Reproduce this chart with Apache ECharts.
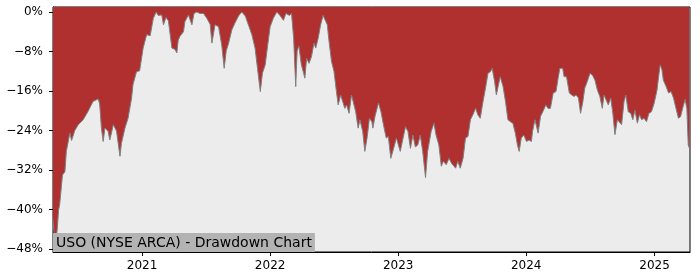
<!DOCTYPE html>
<html><head><meta charset="utf-8">
<script src="https://cdn.jsdelivr.net/npm/echarts@6/dist/echarts.min.js"></script>
<style>html,body{margin:0;padding:0;background:#fff}#c{width:700px;height:280px}</style>
</head><body><div id="c"></div>
<script>
const dates = [
'2020-04-22','2020-04-28','2020-05-04','2020-05-08','2020-05-11','2020-05-19','2020-05-26','2020-05-30','2020-06-09','2020-06-14','2020-06-23',
'2020-07-03','2020-07-17','2020-07-31','2020-08-14','2020-08-29','2020-09-02','2020-09-07','2020-09-12','2020-09-17','2020-09-26',
'2020-10-01','2020-10-11','2020-10-20','2020-10-30','2020-11-03','2020-11-13','2020-11-22','2020-12-02','2020-12-06','2020-12-16','2020-12-25',
'2021-01-04','2021-01-14','2021-01-24','2021-02-02','2021-02-10','2021-02-16','2021-02-26','2021-03-03','2021-03-10','2021-03-17','2021-03-22','2021-03-27',
'2021-04-05','2021-04-10','2021-04-14','2021-04-19','2021-04-29','2021-05-03','2021-05-13','2021-05-23','2021-05-29','2021-06-06','2021-06-15','2021-06-25',
'2021-07-04','2021-07-14','2021-07-19','2021-07-28','2021-08-07','2021-08-16','2021-08-23','2021-08-29','2021-09-04','2021-09-14','2021-09-23',
'2021-10-03','2021-10-12','2021-10-22','2021-10-31','2021-11-10','2021-11-19','2021-11-26','2021-12-04','2021-12-10','2021-12-18','2021-12-24',
'2022-01-01','2022-01-10','2022-01-20','2022-01-29','2022-02-08','2022-02-15','2022-02-25','2022-03-03','2022-03-06','2022-03-09','2022-03-15','2022-03-19','2022-03-24','2022-03-31',
'2022-04-05','2022-04-10','2022-04-15','2022-04-22','2022-04-29','2022-05-06','2022-05-11','2022-05-18','2022-05-25','2022-06-01','2022-06-06','2022-06-13','2022-06-18','2022-06-25',
'2022-07-02','2022-07-09','2022-07-14','2022-07-21','2022-07-26','2022-08-02','2022-08-07','2022-08-14','2022-08-21','2022-08-26','2022-09-02','2022-09-09','2022-09-14','2022-09-22','2022-09-28',
'2022-10-05','2022-10-11','2022-10-18','2022-10-21','2022-10-27','2022-11-06','2022-11-13','2022-11-20','2022-11-28','2022-12-04','2022-12-11','2022-12-19','2022-12-27',
'2023-01-01','2023-01-07','2023-01-15','2023-01-22','2023-01-29','2023-02-05','2023-02-12','2023-02-19','2023-02-26','2023-03-05','2023-03-12','2023-03-20','2023-03-26',
'2023-04-05','2023-04-13','2023-04-19','2023-04-27','2023-05-04','2023-05-10','2023-05-18','2023-05-26','2023-06-02','2023-06-06','2023-06-14','2023-06-20','2023-06-27',
'2023-07-05','2023-07-12','2023-07-19','2023-07-26','2023-08-02','2023-08-10','2023-08-16','2023-08-23','2023-08-31','2023-09-07','2023-09-14','2023-09-21','2023-09-26',
'2023-10-03','2023-10-08','2023-10-12','2023-10-19','2023-10-27','2023-11-03','2023-11-10','2023-11-17','2023-11-24','2023-12-01','2023-12-07','2023-12-12','2023-12-18','2023-12-25',
'2024-01-02','2024-01-09','2024-01-16','2024-01-19','2024-01-26','2024-01-30','2024-02-04','2024-02-11','2024-02-18','2024-02-26','2024-03-03','2024-03-10','2024-03-18','2024-03-26',
'2024-04-01','2024-04-06','2024-04-14','2024-04-18','2024-04-25','2024-05-03','2024-05-10','2024-05-16','2024-05-22','2024-05-29','2024-06-04','2024-06-10','2024-06-16','2024-06-23',
'2024-07-01','2024-07-08','2024-07-15','2024-07-22','2024-07-29','2024-08-05','2024-08-10','2024-08-15','2024-08-22','2024-08-29','2024-09-04','2024-09-10','2024-09-17','2024-09-22','2024-09-29',
'2024-10-06','2024-10-11','2024-10-18','2024-10-25','2024-10-31','2024-11-06','2024-11-13','2024-11-19','2024-11-25','2024-12-02','2024-12-09','2024-12-16','2024-12-23','2024-12-31',
'2025-01-08','2025-01-12','2025-01-17','2025-01-22','2025-01-26','2025-02-03','2025-02-10','2025-02-17','2025-02-24','2025-03-03','2025-03-10','2025-03-16','2025-03-22','2025-03-29',
'2025-04-03','2025-04-07','2025-04-10'
];
const drawdown = [
-42,-48,-44,-40,-39,-33,-32.3,-28.2,-24.5,-26,-24,
-22.8,-21.8,-20.1,-18.1,-17.6,-18.6,-23.5,-26.2,-23.5,-24.1,
-25.9,-22.8,-24.1,-29.2,-26.6,-23.5,-21.5,-17.4,-14.7,-12.1,-11.9,
-7.3,-4.6,-4.8,-1.3,0,-0.7,-0.6,-2.6,-1.1,-1.8,-4.6,-7.3,
-7.6,-8.3,-5.7,-4.9,-4.0,-2.0,-0.6,-2.6,-0.3,0,-0.3,-0.3,
-1.2,-2.5,-6.3,-2.6,-3.0,-6.7,-11.4,-7.8,-6.5,-3.6,-2.2,
-0.8,0,-0.8,-2.6,-4.6,-7.3,-11.4,-16.1,-12.4,-10.7,-7.3,
-3.0,-1.3,0,-0.7,-1.7,-0.3,-0.7,-0.3,0,-5.3,-15.1,-7.9,-6.9,-10.7,
-12.0,-13.4,-9.4,-10.4,-9.0,-6.3,-7.3,-5.3,-2.6,-0.7,-0.5,-2.6,-6.0,-10.0,
-12.0,-16.1,-18.8,-16.8,-16.5,-19.5,-18.8,-20.5,-16.8,-16.5,-20.2,-23.5,-21.8,-24.2,-28.2,
-25.2,-21.5,-22.2,-23.5,-21.1,-18.4,-20.2,-22.8,-25.5,-25.2,-29.6,-27.6,-25.5,
-25.2,-28.2,-25.5,-23.2,-24.2,-27.6,-24.9,-27.3,-26.9,-24.9,-28.2,-33.5,-28.2,
-24.2,-22.5,-24.9,-26.9,-31.2,-30.2,-30.9,-29.6,-30.6,-30.9,-31.6,-30.2,-31.6,
-29.6,-25.5,-25.2,-21.8,-20.8,-19.5,-20.8,-21.5,-18.1,-15.4,-12.4,-12.1,-11.4,
-14.1,-16.8,-15.4,-13.1,-15.1,-18.1,-21.8,-22.2,-22.5,-24.5,-26.9,-28.2,-25.5,-24.9,
-26.2,-25.9,-26.2,-24.2,-21.8,-22.2,-24.5,-21.1,-20.1,-18.8,-19.5,-19.5,-16.4,-16.1,
-13.4,-11.4,-11.4,-13.1,-13.1,-16.4,-16.8,-17.1,-16.8,-17.4,-20.5,-18.4,-15.4,-14.1,
-12.4,-12.8,-13.8,-15.8,-17.1,-19.5,-16.8,-16.5,-18.8,-17.4,-20.5,-24.8,-21.8,-21.5,-22.8,
-18.1,-16.8,-20.2,-20.5,-21.8,-19.9,-22.5,-20.8,-21.8,-21.5,-22.2,-20.5,-20.2,-18.4,
-15.8,-13.4,-10.7,-11.7,-13.8,-15.1,-16.4,-16.1,-17.4,-19.5,-21.5,-21.2,-19.5,-17.7,
-19.5,-26.9,-27.5
];
const yTicks = [0, -8, -16, -24, -32, -40, -48];
const xTickYears = ['2021', '2022', '2023', '2024', '2025'];
const xRange = ['2020-04-22', '2025-04-12'];
const yRange = [-48.55, 1.0];
const chartTitle = 'USO (NYSE ARCA) - Drawdown Chart';

const ts = s => { const p = s.split('-').map(Number); return Date.UTC(p[0], (p[1] || 1) - 1, p[2] || 1); };
const yearTs = xTickYears.map(y => ts(y + '-01-01'));
const seriesData = dates.map((d, i) => [ts(d), drawdown[i]]);

const chart = echarts.init(document.getElementById('c'), null, {renderer: 'canvas'});
chart.setOption({
  animation: false,
  title: {
    text: chartTitle, left: 53, bottom: 28,
    backgroundColor: '#b3b3b3', padding: [3, 3, 2, 3],
    textStyle: {fontFamily: 'DejaVu Sans', fontSize: 14, fontWeight: 'normal', color: '#000'}
  },
  grid: {left: 53, right: 10, top: 7, bottom: 28, show: true, backgroundColor: '#ececec', borderColor: '#000', borderWidth: 1},
  xAxis: {
    type: 'value', min: ts(xRange[0]), max: ts(xRange[1]),
    axisLine: {show: true, onZero: false, lineStyle: {color: '#000', width: 1}},
    axisTick: {show: true, length: 4, customValues: yearTs, lineStyle: {color: '#000'}},
    axisLabel: {customValues: yearTs, formatter: v => String(new Date(v).getUTCFullYear()), fontFamily: 'DejaVu Sans', fontSize: 12, color: '#000', margin: 8},
    splitLine: {show: false}
  },
  yAxis: {
    type: 'value', min: yRange[0], max: yRange[1],
    axisLine: {show: true, onZero: false, lineStyle: {color: '#000', width: 1}},
    axisTick: {show: true, length: 4, customValues: yTicks, lineStyle: {color: '#000'}},
    axisLabel: {customValues: yTicks, formatter: v => (v < 0 ? '\u2212' : '') + Math.abs(v) + '%', fontFamily: 'DejaVu Sans', fontSize: 12, color: '#000', margin: 10},
    splitLine: {show: false}
  },
  series: [{
    type: 'line', data: seriesData, showSymbol: false, symbol: 'none',
    lineStyle: {color: '#808080', width: 1},
    areaStyle: {color: '#b03030', opacity: 1, origin: 'end'}
  }]
});
</script></body></html>
